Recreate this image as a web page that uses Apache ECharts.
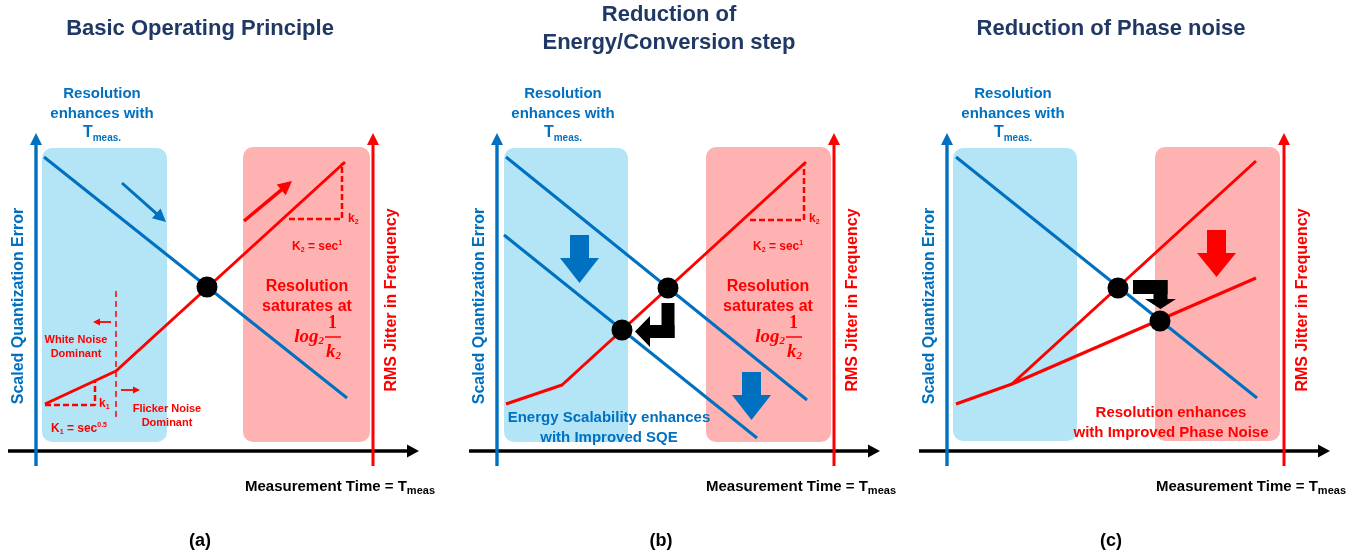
<!DOCTYPE html>
<html><head><meta charset="utf-8">
<script src="https://cdn.jsdelivr.net/npm/echarts@6/dist/echarts.min.js"></script>
<style>html,body{margin:0;padding:0;background:#fff}#c{width:1367px;height:557px}</style>
</head><body><div id="c"></div>
<script>
// ---------------- DATA (x: measurement time units, y: error / jitter units) ----------------
const panelLabels = ['(a)', '(b)', '(c)'];
const panelTitles = [['Basic Operating Principle'], ['Reduction of', 'Energy/Conversion step'], ['Reduction of Phase noise']];

// shaded regions [x0, y0, x1, y1]
const blueZones = [[6, 9, 131, 303], [7, 9, 131, 303], [6, 10, 130, 303]];
const redZones  = [[207, 9, 334, 304], [209, 9, 334, 304], [208, 10, 333, 304]];

// axes (drawn as arrows) [x0, y0, x1, y1]
const timeAxis   = [-28, 0, 383, 0];
const errorAxis  = [0, -15, 0, 318];
const jitterAxis = [337, -15, 337, 318];

// scaled quantization error lines
const aQuantErr = [[8, 294], [311, 53]];
const bQuantErr = [[9, 294], [310, 51]];
const bQuantErrImproved = [[7, 216], [260, 13]];
const cQuantErr = [[9, 294], [310, 53]];

// RMS jitter lines
const aJitter = [[9, 47], [80, 80], [309, 289]];
const bJitter = [[9, 47], [65, 66], [309, 289]];
const cJitter = [[9, 47], [65, 67], [309, 290]];
const cJitterImproved = [[65, 67], [309, 173]];

// operating points
const aPoints = [[171, 164]];
const bPoints = [[171, 163], [125, 121]];
const cPoints = [[171, 163], [213, 130]];

// slope guides (dashed)
const aK2Guide = [[253, 232], [306, 232], [306, 288]];
const aK1Guide = [[9, 46], [59, 46], [59, 70]];
const aNoiseBoundary = [[80, 160], [80, 34]];
const bK2Guide = [[253, 231], [307, 231], [307, 288]];

// trend arrows [x0, y0, x1, y1]
const aErrorTrend  = [[86, 268, 130, 229]];
const aJitterTrend = [[208, 230, 256, 270]];
const aNoiseArrows = [[75, 129, 57, 129], [85, 61, 104, 61]];

// block arrows: point list (x, y, ...), last point = tip
const bDownArrows = [[82.5, 216, 82.5, 168], [254.5, 79, 254.5, 31]];
const bShiftArrow = [[171, 148, 171, 119.5, 138, 119.5]];
const cDownArrows = [[269.5, 221, 269.5, 174]];
const cShiftArrow = [[186, 164, 213.5, 164, 213.5, 142]];

// ---------------- LAYOUT / STYLE ----------------
const OFF = [0, 461, 911];
const FONT = "'Liberation Sans', Arial, sans-serif";
const SERIF = "'Liberation Serif', 'Times New Roman', serif";
const NAVY = '#1F3864', BLUE = '#0070C0', RED = '#FF0000', BLACK = '#000000';
const ZONE_BLUE = '#B3E5F7', ZONE_RED = '#FFB2B2';

const chart = echarts.init(document.getElementById('c'), null, {renderer: 'canvas'});

const grid = OFF.map(o => ({left: o + 36, top: 131, width: 340, height: 320}));
const xAxis = OFF.map((o, i) => ({gridIndex: i, type: 'value', min: 0, max: 340, show: false}));
const yAxis = OFF.map((o, i) => ({gridIndex: i, type: 'value', min: 0, max: 320, show: false}));

function lineS(g, data, color, width, dash, z) {
  return {type: 'line', xAxisIndex: g, yAxisIndex: g, data, symbol: 'none', showSymbol: false,
    clip: false, silent: true, animation: false, z: z || 3,
    lineStyle: {color, width, type: dash || 'solid', cap: 'butt'}};
}
function rectS(g, zone, color) {
  return {type: 'custom', xAxisIndex: g, yAxisIndex: g, data: [zone], clip: false, silent: true, z: 1,
    renderItem: (p, api) => {
      const a = api.coord([api.value(0), api.value(3)]);
      const b = api.coord([api.value(2), api.value(1)]);
      return {type: 'rect', shape: {x: a[0], y: a[1], width: b[0] - a[0], height: b[1] - a[1], r: 10},
        style: {fill: color}};
    }};
}
function arrowS(g, arrows, color, width, hl, hw, z) {
  return {type: 'custom', xAxisIndex: g, yAxisIndex: g, data: arrows, clip: false, silent: true, z: z || 3,
    renderItem: (p, api) => {
      const a = api.coord([api.value(0), api.value(1)]);
      const b = api.coord([api.value(2), api.value(3)]);
      const dx = b[0] - a[0], dy = b[1] - a[1], L = Math.hypot(dx, dy);
      const ux = dx / L, uy = dy / L, nx = -uy, ny = ux;
      const bx = b[0] - ux * hl, by = b[1] - uy * hl;
      return {type: 'group', children: [
        {type: 'line', shape: {x1: a[0], y1: a[1], x2: bx + ux, y2: by + uy}, style: {stroke: color, lineWidth: width}},
        {type: 'polygon', shape: {points: [[b[0], b[1]], [bx + nx * hw / 2, by + ny * hw / 2], [bx - nx * hw / 2, by - ny * hw / 2]]},
          style: {fill: color}}
      ]};
    }};
}
function blockS(g, arrows, color, w, hw, hl) {
  return {type: 'custom', xAxisIndex: g, yAxisIndex: g, clip: false, silent: true, z: 4,
    data: arrows.map(a => [a[0], a[1]]),
    renderItem: (params, api) => {
      const a = arrows[params.dataIndex];
      const pts = [];
      for (let j = 0; j < a.length; j += 2) pts.push(api.coord([a[j], a[j + 1]]));
      const n = pts.length, children = [];
      for (let j = 0; j < n - 1; j++) {
        const p = pts[j], q = pts[j + 1];
        const dx = q[0] - p[0], dy = q[1] - p[1], L = Math.hypot(dx, dy);
        const ux = dx / L, uy = dy / L, nx = -uy, ny = ux;
        const s = j > 0 ? [p[0] - ux * w / 2, p[1] - uy * w / 2] : p;
        if (j < n - 2) {
          const e = [q[0] + ux * w / 2, q[1] + uy * w / 2];
          children.push({type: 'polygon', shape: {points: [
            [s[0] + nx * w / 2, s[1] + ny * w / 2], [e[0] + nx * w / 2, e[1] + ny * w / 2],
            [e[0] - nx * w / 2, e[1] - ny * w / 2], [s[0] - nx * w / 2, s[1] - ny * w / 2]]}, style: {fill: color}});
        } else {
          const b = [q[0] - ux * hl, q[1] - uy * hl];
          children.push({type: 'polygon', shape: {points: [
            [s[0] + nx * w / 2, s[1] + ny * w / 2], [b[0] + nx * w / 2, b[1] + ny * w / 2],
            [b[0] + nx * hw / 2, b[1] + ny * hw / 2], [q[0], q[1]],
            [b[0] - nx * hw / 2, b[1] - ny * hw / 2], [b[0] - nx * w / 2, b[1] - ny * w / 2],
            [s[0] - nx * w / 2, s[1] - ny * w / 2]]}, style: {fill: color}});
        }
      }
      return {type: 'group', children};
    }};
}
function dotS(g, data) {
  return {type: 'scatter', xAxisIndex: g, yAxisIndex: g, data, symbolSize: 21, silent: true, z: 6,
    itemStyle: {color: BLACK, opacity: 1}, emphasis: {disabled: true}, clip: false};
}

const series = [];
[0, 1, 2].forEach(i => {
  series.push(rectS(i, blueZones[i], ZONE_BLUE));
  series.push(rectS(i, redZones[i], ZONE_RED));
  series.push(arrowS(i, [timeAxis], BLACK, 3.3, 12, 13, 2));
  series.push(arrowS(i, [errorAxis], BLUE, 3.4, 12, 12, 2));
  series.push(arrowS(i, [jitterAxis], RED, 3, 12, 12, 2));
});
// panel a
series.push(lineS(0, aQuantErr, BLUE, 3));
series.push(lineS(0, aJitter, RED, 3));
series.push(lineS(0, aK2Guide, RED, 2.5, [6, 3]));
series.push(lineS(0, aK1Guide, RED, 2.5, [6, 3]));
series.push(lineS(0, aNoiseBoundary, RED, 1.5, [6, 4]));
series.push(arrowS(0, aErrorTrend, BLUE, 3, 13, 13));
series.push(arrowS(0, aJitterTrend, RED, 3.5, 14, 14));
series.push(arrowS(0, aNoiseArrows, RED, 1.8, 7, 7));
series.push(dotS(0, aPoints));
// panel b
series.push(lineS(1, bQuantErr, BLUE, 3));
series.push(lineS(1, bQuantErrImproved, BLUE, 3));
series.push(lineS(1, bJitter, RED, 3));
series.push(lineS(1, bK2Guide, RED, 2.5, [6, 3]));
series.push(blockS(1, bDownArrows, BLUE, 19, 39, 25));
series.push(blockS(1, bShiftArrow, BLACK, 13, 31, 15));
series.push(dotS(1, bPoints));
// panel c
series.push(lineS(2, cQuantErr, BLUE, 3));
series.push(lineS(2, cJitter, RED, 3));
series.push(lineS(2, cJitterImproved, RED, 3));
series.push(blockS(2, cDownArrows, RED, 19, 39, 24));
series.push(blockS(2, cShiftArrow, BLACK, 14, 31, 10));
series.push(dotS(2, cPoints));

// ---------------- TEXT ----------------
function tok(size, color, extra) {
  return Object.assign({fontSize: size, fontFamily: FONT, fontWeight: 'bold', fill: color,
    lineHeight: Math.round(size * 1.25)}, extra || {});
}
function txt(x, y, str, rich, opt) {
  opt = opt || {};
  const el = {type: 'text', x, y, z: 100, silent: true,
    style: {text: str, rich, align: opt.align || 'center', textAlign: opt.align || 'center',
      verticalAlign: 'middle', textVerticalAlign: 'middle'}};
  if (opt.rot) el.rotation = opt.rot;
  return el;
}
const graphics = [];
const rRed = {
  r: tok(12, RED, {lineHeight: 14}),
  sb: tok(7, RED, {lineHeight: 8, verticalAlign: 'bottom'}),
  sp: tok(7, RED, {lineHeight: 8, verticalAlign: 'top'})
};
[0, 1, 2].forEach(i => {
  const o = OFF[i];
  // title
  const tLines = panelTitles[i].map(s => '{t|' + s + '}').join('\n');
  graphics.push(txt(o + (i === 1 ? 208 : 200), 29, tLines, {t: tok(22, NAVY, {lineHeight: 28})}));
  // resolution enhances with Tmeas
  graphics.push(txt(o + 102, 113.5, '{b|Resolution}\n{b|enhances with}\n{T|T}{m|meas.}', {
    b: tok(15, BLUE, {lineHeight: 19.5}), T: tok(16, BLUE, {lineHeight: 19.5}),
    m: tok(10, BLUE, {lineHeight: 15, verticalAlign: 'bottom'})}));
  // axis titles
  graphics.push(txt(o + 19, 306, '{y|Scaled Quantization Error}', {y: tok(16, BLUE)}, {rot: Math.PI / 2}));
  graphics.push(txt(o + 392, 300, '{y|RMS Jitter in Frequency}', {y: tok(16, RED)}, {rot: Math.PI / 2}));
  graphics.push(txt(o + 245, 487, '{x|Measurement Time = T}{m|meas}', {
    x: tok(15, BLACK, {lineHeight: 18}), m: tok(11, BLACK, {lineHeight: 13, verticalAlign: 'bottom'})}, {align: 'left'}));
  graphics.push(txt(o + 200, 541, '{p|' + panelLabels[i] + '}', {p: tok(18, BLACK)}));
  if (i < 2) {
    graphics.push(txt(o + 348, 219, '{r|k}{sb|2}', rRed, {align: 'left'}));
    graphics.push(txt(o + 292, 247, '{r|K}{sb|2}{r| = sec}{sp|1}', rRed, {align: 'left'}));
    graphics.push(txt(o + 307, 297, '{s|Resolution}\n{s|saturates at}', {s: tok(16, RED, {lineHeight: 20})}));
    const lt = {
      l: {fontSize: 19, fontFamily: SERIF, fontStyle: 'italic', fontWeight: 'bold', fill: RED, lineHeight: 20},
      ls: {fontSize: 11, fontFamily: SERIF, fontStyle: 'italic', fontWeight: 'bold', fill: RED, lineHeight: 12, verticalAlign: 'bottom'},
      n: {fontSize: 18, fontFamily: SERIF, fontWeight: 'bold', fill: RED, lineHeight: 18}
    };
    graphics.push(txt(o + 324, 337, '{l|log}{ls|2}', lt, {align: 'right'}));
    graphics.push(txt(o + 332.5, 323, '{n|1}', lt));
    graphics.push({type: 'line', z: 100, silent: true, shape: {x1: o + 325, y1: 337, x2: o + 341, y2: 337},
      style: {stroke: RED, lineWidth: 1.5}});
    graphics.push(txt(o + 326, 352, '{l|k}{ls|2}', lt, {align: 'left'}));
  }
  if (i === 0) {
    const w = {w: tok(11, RED, {lineHeight: 14})};
    graphics.push(txt(o + 76, 347, '{w|White Noise}\n{w|Dominant}', w));
    graphics.push(txt(o + 167, 416, '{w|Flicker Noise}\n{w|Dominant}', w));
    graphics.push(txt(o + 99, 404, '{r|k}{sb|1}', rRed, {align: 'left'}));
    graphics.push(txt(o + 51, 429, '{r|K}{sb|1}{r| = sec}{sp|0.5}', rRed, {align: 'left'}));
  }
  if (i === 1) {
    graphics.push(txt(o + 148, 428, '{e|Energy Scalability enhances}\n{e|with Improved SQE}', {e: tok(15, BLUE, {lineHeight: 20})}));
  }
  if (i === 2) {
    graphics.push(txt(o + 260, 423, '{e|Resolution enhances}\n{e|with Improved Phase Noise}', {e: tok(15, RED, {lineHeight: 20})}));
  }
});

chart.setOption({
  animation: false,
  backgroundColor: '#ffffff',
  grid, xAxis, yAxis, series,
  graphic: {elements: graphics}
});
</script></body></html>
